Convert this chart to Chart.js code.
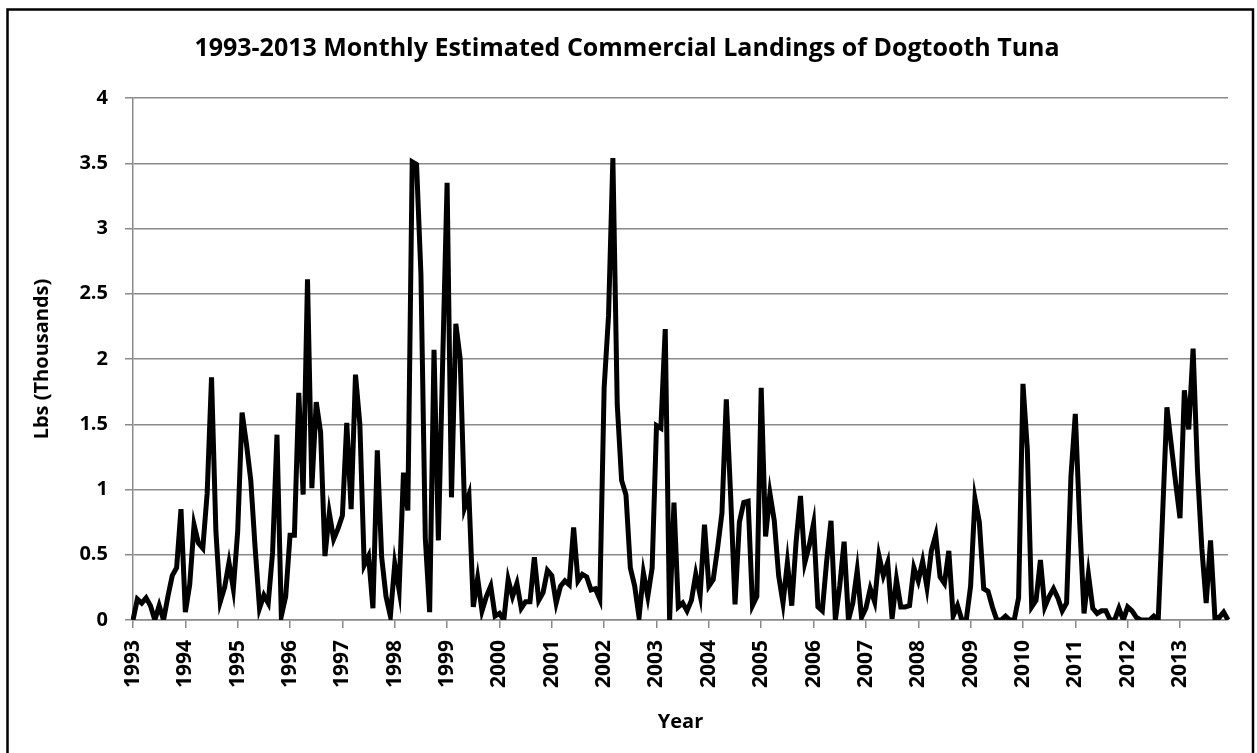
<!DOCTYPE html>
<html>
<head>
<meta charset="utf-8">
<title>Dogtooth Tuna Landings</title>
<script src="https://cdn.jsdelivr.net/npm/chart.js@4.4.0/dist/chart.umd.min.js"></script>
<style>
  html, body { margin: 0; padding: 0; background: #fff; }
  #chart { display: block; }
</style>
</head>
<body>
<canvas id="chart" width="1257" height="753"></canvas>
<script>
// Years shown on the x axis (one tick per January)
const years = [1993, 1994, 1995, 1996, 1997, 1998, 1999, 2000, 2001, 2002, 2003,
  2004, 2005, 2006, 2007, 2008, 2009, 2010, 2011, 2012, 2013];

// Monthly landings, thousands of lbs, Jan..Dec for each year
const landings = [
  0.00, 0.16, 0.13, 0.17, 0.11, 0.00, 0.11, 0.00, 0.18, 0.34, 0.40, 0.85, // 1993
  0.06, 0.27, 0.73, 0.59, 0.55, 0.97, 1.86, 0.68, 0.14, 0.25, 0.44, 0.24, // 1994
  0.68, 1.59, 1.35, 1.07, 0.55, 0.09, 0.19, 0.13, 0.52, 1.42, 0.03, 0.18, // 1995
  0.65, 0.65, 1.74, 0.96, 2.61, 1.01, 1.67, 1.44, 0.49, 0.82, 0.62, 0.70, // 1996
  0.80, 1.51, 0.85, 1.88, 1.50, 0.42, 0.49, 0.09, 1.30, 0.48, 0.18, 0.03, // 1997
  0.43, 0.23, 1.13, 0.84, 3.51, 3.49, 2.65, 0.63, 0.06, 2.07, 0.61, 2.00, // 1998
  3.35, 0.94, 2.27, 2.00, 0.86, 0.96, 0.10, 0.32, 0.07, 0.18, 0.26, 0.03, // 1999
  0.05, 0.00, 0.31, 0.18, 0.28, 0.09, 0.14, 0.14, 0.48, 0.15, 0.21, 0.38, // 2000
  0.34, 0.13, 0.26, 0.30, 0.27, 0.71, 0.30, 0.35, 0.33, 0.23, 0.24, 0.16, // 2001
  1.78, 2.33, 3.54, 1.65, 1.07, 0.96, 0.40, 0.26, 0.02, 0.36, 0.18, 0.40, // 2002
  1.49, 1.47, 2.23, 0.00, 0.90, 0.10, 0.13, 0.07, 0.15, 0.35, 0.19, 0.73, // 2003
  0.26, 0.31, 0.55, 0.82, 1.69, 0.95, 0.12, 0.75, 0.90, 0.91, 0.11, 0.18, // 2004
  1.78, 0.64, 0.97, 0.76, 0.34, 0.13, 0.44, 0.11, 0.60, 0.95, 0.44, 0.57, // 2005
  0.74, 0.10, 0.07, 0.45, 0.76, 0.00, 0.26, 0.60, 0.00, 0.13, 0.38, 0.02, // 2006
  0.09, 0.24, 0.14, 0.49, 0.34, 0.44, 0.01, 0.31, 0.10, 0.10, 0.11, 0.40, // 2007
  0.30, 0.45, 0.25, 0.53, 0.65, 0.33, 0.28, 0.53, 0.03, 0.11, 0.00, 0.00, // 2008
  0.26, 0.93, 0.75, 0.24, 0.22, 0.10, 0.00, 0.00, 0.03, 0.00, 0.00, 0.17, // 2009
  1.81, 1.31, 0.10, 0.15, 0.46, 0.10, 0.18, 0.24, 0.17, 0.07, 0.13, 1.10, // 2010
  1.58, 0.75, 0.05, 0.35, 0.09, 0.05, 0.07, 0.07, 0.00, 0.00, 0.09, 0.00, // 2011
  0.10, 0.07, 0.02, 0.00, 0.00, 0.00, 0.03, 0.00, 0.80, 1.63, 1.34, 1.05, // 2012
  0.78, 1.76, 1.46, 2.08, 1.15, 0.55, 0.13, 0.61, 0.02, 0.02, 0.06, 0.00  // 2013
];

const yMin = 0;
const yMax = 4;
const yStep = 0.5;

// One category per month, only January carries the year label
const labels = [];
years.forEach(y => {
  for (let m = 0; m < 12; m++) labels.push(m === 0 ? String(y) : '');
});

const FONT = "'Open Sans', 'Liberation Sans', sans-serif";
const GRID = '#8a8a8a';

// White background plus the outer frame
const framePlugin = {
  id: 'frame',
  beforeDraw(chart) {
    const ctx = chart.ctx;
    ctx.save();
    ctx.fillStyle = '#fff';
    ctx.fillRect(0, 0, chart.width, chart.height);
    ctx.strokeStyle = '#000';
    ctx.lineWidth = 2.5;
    ctx.strokeRect(7.5, 9.5, 1245.5, 760);
    ctx.restore();
  }
};

new Chart(document.getElementById('chart').getContext('2d'), {
  type: 'line',
  data: {
    labels,
    datasets: [{
      data: landings,
      borderColor: '#000',
      borderWidth: 5,
      pointRadius: 0,
      tension: 0,
      fill: false,
    }],
  },
  options: {
    responsive: false,
    animation: false,
    layout: { padding: { left: 26, right: 29, top: 0, bottom: 0 } },
    plugins: {
      legend: { display: false },
      tooltip: { enabled: false },
      title: {
        display: true,
        text: '1993-2013 Monthly Estimated Commercial Landings of Dogtooth Tuna',
        color: '#000',
        font: { family: FONT, size: 25, weight: 'bold' },
        padding: { top: 34, bottom: 34 },
      },
    },
    scales: {
      x: {
        type: 'category',
        offset: false,
        afterFit: scale => {
          scale.height = 133;
          // the rotated labels would otherwise reserve extra room on the right
          scale.paddingLeft = 0;
          scale.paddingRight = 0;
        },
        border: { display: true, color: GRID, width: 1.5 },
        grid: {
          drawOnChartArea: false,
          drawTicks: true,
          tickLength: 8,
          lineWidth: 1.5,
          color: c => (c.index % 12 === 0 ? GRID : 'rgba(0,0,0,0)'),
        },
        ticks: {
          autoSkip: false,
          minRotation: 90,
          maxRotation: 90,
          padding: 12,
          color: '#000',
          font: { family: FONT, size: 21, weight: 'bold' },
        },
        title: {
          display: true,
          text: 'Year',
          color: '#000',
          font: { family: FONT, size: 20, weight: 'bold' },
          padding: { top: 0, bottom: 19 },
        },
      },
      y: {
        min: yMin,
        max: yMax,
        afterFit: scale => { scale.width = 107; },
        border: { display: true, color: GRID, width: 1.5 },
        grid: {
          color: GRID,
          lineWidth: 1.5,
          tickLength: 8,
        },
        ticks: {
          stepSize: yStep,
          padding: 17,
          color: '#000',
          font: { family: FONT, size: 20, weight: 'bold' },
          callback: v => String(v),
        },
        title: {
          display: true,
          text: 'Lbs (Thousands)',
          color: '#000',
          font: { family: FONT, size: 20, weight: 'bold' },
          padding: { top: 4, bottom: 0 },
        },
      },
    },
  },
  plugins: [framePlugin],
});
</script>
</body>
</html>
